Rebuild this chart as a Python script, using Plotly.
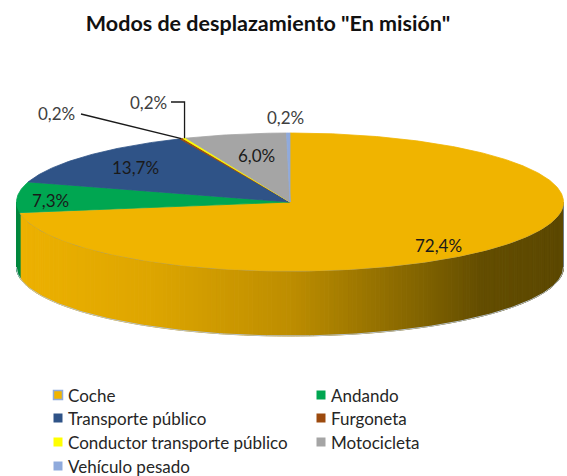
import numpy as np
import plotly.graph_objects as go

# --- data -------------------------------------------------------------
categories = ["Coche", "Andando", "Transporte público", "Furgoneta",
              "Conductor transporte público", "Motocicleta", "Vehículo pesado"]
shares = [72.4, 7.3, 13.7, 0.2, 0.2, 6.0, 0.2]
colors = ["#F0B400", "#00A651", "#2F5387", "#9C4A0E", "#FFFF00", "#A5A5A5", "#8FAADC"]
title_text = 'Modos de desplazamiento "En misión"'

# --- geometry of the tilted pie (pixel space) -------------------------
W, H = 567, 476
CX, CY = 290, 202          # centre of the top face
RX, RY = 273.5, 69         # semi-axes of the top ellipse
DEPTH = 65                 # thickness of the disc

FONT = "Lato"

# data-label placement (x, y) and which labels sit outside the disc
label_pos = [(438, 245), (50, 200), (135, 167), (56, 113), (148, 102), (256, 155), (285, 117)]
outside = [False, False, False, True, True, False, True]


def rim(theta_deg, dy=0.0):
    t = np.radians(theta_deg)
    return CX + RX * np.sin(t), CY - RY * np.cos(t) + dy


# start / end angle of every slice, clockwise from 12 o'clock
ends = np.cumsum(shares) / sum(shares) * 360.0
starts = np.concatenate([[0.0], ends[:-1]])

fig = go.Figure()


def side_color(x):
    # gold shading that darkens towards the right
    xs = [16, 150, 290, 420, 480, 563]
    rs = [238, 222, 190, 130, 100, 92]
    gs = [178, 166, 142, 100, 78, 72]
    return "rgb(%d,%d,0)" % (np.interp(x, xs, rs), np.interp(x, xs, gs))


# --- side wall (only the front half, 90..270 degrees, is visible) -----
for i, (a0, a1) in enumerate(zip(starts, ends)):
    lo, hi = max(a0, 90.0), min(a1, 270.0)
    if hi <= lo:
        continue
    n = int(np.ceil(hi - lo))
    edges = np.linspace(lo, hi, n + 1)
    for s0, s1 in zip(edges[:-1], edges[1:]):
        th = np.linspace(s0, s1, 3)
        xt, yt = rim(th)
        xb, yb = rim(th[::-1], DEPTH)
        if i == 0:
            c = side_color(float(np.mean(xt)))
        else:
            c = "#00893F"
        fig.add_trace(go.Scatter(
            x=np.concatenate([xt, xb, xt[:1]]), y=np.concatenate([yt, yb, yt[:1]]),
            mode="lines", fill="toself", fillcolor=c,
            line=dict(color=c, width=1), hoverinfo="skip", showlegend=False))

# outline of the bottom edge and of the front seam
thb = np.linspace(90, 270, 200)
xb, yb = rim(thb, DEPTH)
fig.add_trace(go.Scatter(x=xb, y=yb, mode="lines", line=dict(color="#B9C3CC", width=1),
                         hoverinfo="skip", showlegend=False))
ths = np.linspace(90, min(ends[0], 270), 200)
xs_, ys_ = rim(ths)
fig.add_trace(go.Scatter(x=xs_, y=ys_, mode="lines", line=dict(color="#8A969E", width=1),
                         hoverinfo="skip", showlegend=False))
xl = [rim(90)[0], rim(90)[0]]
yl = [rim(90)[1], rim(90, DEPTH)[1]]
fig.add_trace(go.Scatter(x=xl, y=yl, mode="lines", line=dict(color="#6E7A80", width=1),
                         hoverinfo="skip", showlegend=False))

# --- top face slices ---------------------------------------------------
for i, (a0, a1) in enumerate(zip(starts, ends)):
    n = max(3, int((a1 - a0) * 2) + 2)
    th = np.linspace(a0, a1, n)
    x, y = rim(th)
    fig.add_trace(go.Scatter(
        x=np.concatenate([[CX], x, [CX]]), y=np.concatenate([[CY], y, [CY]]),
        mode="lines", fill="toself", fillcolor=colors[i],
        line=dict(color=colors[i], width=0.8), name=categories[i],
        hovertemplate="%s: %.1f%%<extra></extra>" % (categories[i], shares[i]),
        showlegend=False))

# --- data labels -------------------------------------------------------
annotations = []
for i, v in enumerate(shares):
    lx, ly = label_pos[i]
    annotations.append(dict(
        x=lx, y=ly, xref="x", yref="y", showarrow=False,
        text=("%.1f%%" % v).replace(".", ","),
        font=dict(family=FONT, size=17, color="#404040" if outside[i] else "#1A1A1A")))

# leader lines for the two thin slices on the left
mid3 = (starts[3] + ends[3]) / 2
mid4 = (starts[4] + ends[4]) / 2
p3 = rim(mid3)
p4 = rim(mid4)
fig.add_trace(go.Scatter(x=[label_pos[3][0] + 25, p3[0]], y=[label_pos[3][1] + 1, p3[1]],
                         mode="lines", line=dict(color="#1A1A1A", width=1.3),
                         hoverinfo="skip", showlegend=False))
fig.add_trace(go.Scatter(x=[label_pos[4][0] + 23, p4[0], p4[0]],
                         y=[label_pos[4][1], label_pos[4][1], p4[1]],
                         mode="lines", line=dict(color="#1A1A1A", width=1.3),
                         hoverinfo="skip", showlegend=False))

# --- legend (two columns, filled row by row) ---------------------------
col_x = [58, 321]
row_y = [395, 418, 442, 466]
for i, name in enumerate(categories):
    r, c = divmod(i, 2)
    sx, sy = col_x[c], row_y[r]
    fig.add_trace(go.Scatter(
        x=[sx], y=[sy], mode="markers", hoverinfo="skip", showlegend=False,
        marker=dict(symbol="square", size=9, color=colors[i],
                    line=dict(color="#8FAADC" if i == 0 else colors[i], width=1.5 if i == 0 else 0))))
    annotations.append(dict(
        x=sx + 8, y=sy, xref="x", yref="y", xanchor="left", showarrow=False,
        text=name, font=dict(family=FONT, size=17, color="#262626")))

fig.update_layout(
    width=W, height=H, margin=dict(l=0, r=0, t=0, b=0),
    paper_bgcolor="white", plot_bgcolor="white",
    title=dict(text="<b>%s</b>" % title_text, x=268 / W, xanchor="center",
               y=1 - 23 / H, yanchor="middle", yref="container",
               font=dict(family=FONT, size=21.5, color="#111111")),
    xaxis=dict(range=[0, W], visible=False, fixedrange=True),
    yaxis=dict(range=[H, 0], visible=False, fixedrange=True),
    annotations=annotations,
    showlegend=False,
)

fig.write_html("out.html")
